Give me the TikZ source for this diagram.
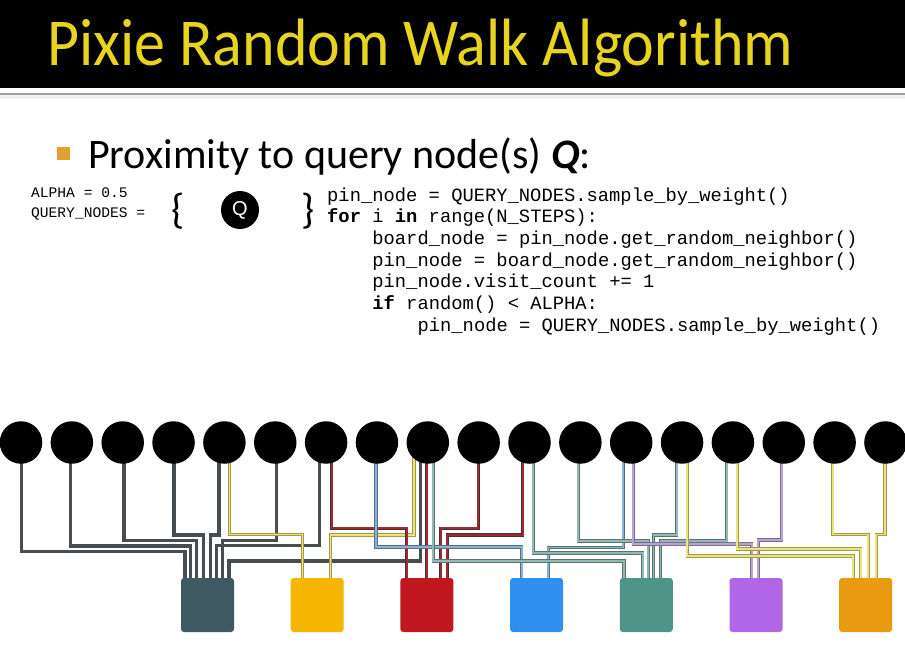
\documentclass[tikz,border=0pt]{standalone}
\usepackage{fontspec}
\setmainfont{Carlito}
\newfontfamily\codefont{Liberation Mono}
\newfontfamily\qfont{Liberation Sans}
\usetikzlibrary{backgrounds}
\definecolor{titley}{HTML}{E6D41E}
\definecolor{bulletc}{HTML}{E3A22C}
\definecolor{sqdark}{HTML}{3E5962}
\definecolor{sqyel}{HTML}{F5B500}
\definecolor{sqred}{HTML}{C0181E}
\definecolor{sqblue}{HTML}{2F8FEF}
\definecolor{sqteal}{HTML}{4F9489}
\definecolor{sqpurp}{HTML}{B066E6}
\definecolor{sqorg}{HTML}{E99A10}
\definecolor{wdk}{HTML}{474D51}
\definecolor{wyo}{HTML}{A39B4A}
\definecolor{wyi}{HTML}{EDE27C}
\definecolor{wro}{HTML}{4E2C31}
\definecolor{wri}{HTML}{9B2B31}
\definecolor{wbo}{HTML}{5A6E80}
\definecolor{wbi}{HTML}{86B3DA}
\definecolor{wto}{HTML}{5D7273}
\definecolor{wti}{HTML}{92BAB2}
\definecolor{wpo}{HTML}{786E88}
\definecolor{wpi}{HTML}{BBA3DA}
\tikzset{
  pin/.style={circle, fill=black, minimum size=42.5pt, inner sep=0pt},
  board/.style={rounded corners=3pt, minimum width=53pt, minimum height=54pt, inner sep=0pt},
  wire/.style={line width=0.9pt, double distance=1.7pt, line join=miter},
  wdark/.style={wire, draw=wdk, double=wdk},
  wyel/.style={wire, draw=wyo, double=wyi},
  wred/.style={wire, draw=wro, double=wri},
  wblue/.style={wire, draw=wbo, double=wbi},
  wteal/.style={wire, draw=wto, double=wti},
  wpurp/.style={wire, draw=wpo, double=wpi},
  codeline/.style={anchor=base west, inner sep=0pt, font=\codefont\fontsize{18.8}{18.8}\selectfont},
  smallcode/.style={anchor=base west, inner sep=0pt, font=\codefont\fontsize{14.6}{14.6}\selectfont},
  bracestyle/.style={anchor=base, inner sep=0pt, font=\fontsize{42}{42}\selectfont},
}
% #1 style, #2 circle index, #3 wire x, #4 turn y, #5 entry x, #6 square index
\newcommand\pixwire[6]{\draw[#1] (#3,0 |- c#2.center) |- (#5,#4) -- (#5,0 |- s#6.center);}
\begin{document}
\begin{tikzpicture}[x=1pt,y=-1pt]
\useasboundingbox (0,0) rectangle (905,658);
% header
\fill[black] (0,0) rectangle (905,88);
\draw[gray!75, line width=2pt] (0,94.5) -- (905,94.5);
\fill[gray!12] (0,95.5) rectangle (905,99);
\node[anchor=base west, inner sep=0pt, text=titley, font=\fontsize{67}{67}\selectfont] (title) at (47,66) {\scalebox{0.925}[1]{Pixie Random Walk Algorithm}};
% bullet line
\node[fill=bulletc, minimum size=13pt, inner sep=0pt] (bul) at (63.5,153.5) {};
\node[anchor=base west, inner sep=0pt, font=\fontsize{42}{42}\selectfont] (prox) at (88,168) {Proximity to query node(s) \textbf{\textit{Q}}:};
% left code
\node[smallcode] (alpha) at (31,197.5) {ALPHA = 0.5};
\node[smallcode] (qn) at (31,217.5) {QUERY\_NODES =};
\node[bracestyle] (lb) at (178,223) {\{};
\node[bracestyle] (rb) at (308,223) {\}};
\node[circle, fill=black, minimum size=38pt, inner sep=0pt, text=white, font=\qfont\fontsize{20}{20}\selectfont] (q) at (240,210) {Q};
% code
\node[codeline] (l1) at (327,201) {pin\_node = QUERY\_NODES.sample\_by\_weight()};
\node[codeline] (l2) at (327,222.7) {\textbf{for} i \textbf{in} range(N\_STEPS):};
\node[codeline] (l3) at (372.2,244.4) {board\_node = pin\_node.get\_random\_neighbor()};
\node[codeline] (l4) at (372.2,266.1) {pin\_node = board\_node.get\_random\_neighbor()};
\node[codeline] (l5) at (372.2,287.8) {pin\_node.visit\_count += 1};
\node[codeline] (l6) at (372.2,309.5) {\textbf{if} random() < ALPHA:};
\node[codeline] (l7) at (417.4,331.2) {pin\_node = QUERY\_NODES.sample\_by\_weight()};
% pins
\foreach \i in {0,...,17} \node[pin] (c\i) at ({21+50.85*\i},442.5) {};
% boards
\foreach \j/\c in {0/sqdark,1/sqyel,2/sqred,3/sqblue,4/sqteal,5/sqpurp,6/sqorg}
  \node[board, fill=\c] (s\j) at ({207.5+109.7*\j},605) {};
\begin{scope}[on background layer]
\fill[white] (0,0) rectangle (905,658);
% dark board
\pixwire{wdark}{0}{21.3}{551.7}{185}{0}
\pixwire{wdark}{1}{70.5}{546}{190.7}{0}
\pixwire{wdark}{2}{124}{540.7}{196.7}{0}
\pixwire{wdark}{3}{174}{535}{203.5}{0}
\pixwire{wdark}{4}{219}{535}{210.5}{0}
\pixwire{wdark}{6}{319.3}{545.5}{216.5}{0}
\pixwire{wdark}{5}{276.7}{540.7}{222.5}{0}
\pixwire{wdark}{8}{420.7}{561}{229}{0}
% yellow board
\pixwire{wyel}{4}{229.5}{534.5}{302.5}{1}
\pixwire{wyel}{8}{414}{535}{330.5}{1}
% red board
\pixwire{wred}{6}{331.7}{528.3}{406.7}{2}
\pixwire{wred}{8}{426.7}{500}{426.7}{2}
\pixwire{wred}{9}{478.3}{528.3}{440.7}{2}
\pixwire{wred}{10}{522.7}{535}{447.3}{2}
% blue board
\pixwire{wblue}{7}{376}{547}{521.7}{3}
\pixwire{wblue}{12}{623.3}{547.5}{548.3}{3}
% teal board
\pixwire{wteal}{8}{433.3}{561}{624}{4}
\pixwire{wteal}{10}{533.3}{553}{642.7}{4}
\pixwire{wteal}{11}{578.3}{541}{648.3}{4}
\pixwire{wteal}{13}{676.7}{535}{653.5}{4}
\pixwire{wteal}{14}{726.7}{541}{660.5}{4}
% purple board
\pixwire{wpurp}{12}{633.3}{544}{751.7}{5}
\pixwire{wpurp}{15}{781.7}{540}{758.3}{5}
% orange board
\pixwire{wyel}{13}{687.3}{556}{853.3}{6}
\pixwire{wyel}{14}{737.3}{549}{860.7}{6}
\pixwire{wyel}{16}{832.7}{534.5}{868.3}{6}
\pixwire{wyel}{17}{885}{534.5}{876.3}{6}
\end{scope}
\end{tikzpicture}
\end{document}
